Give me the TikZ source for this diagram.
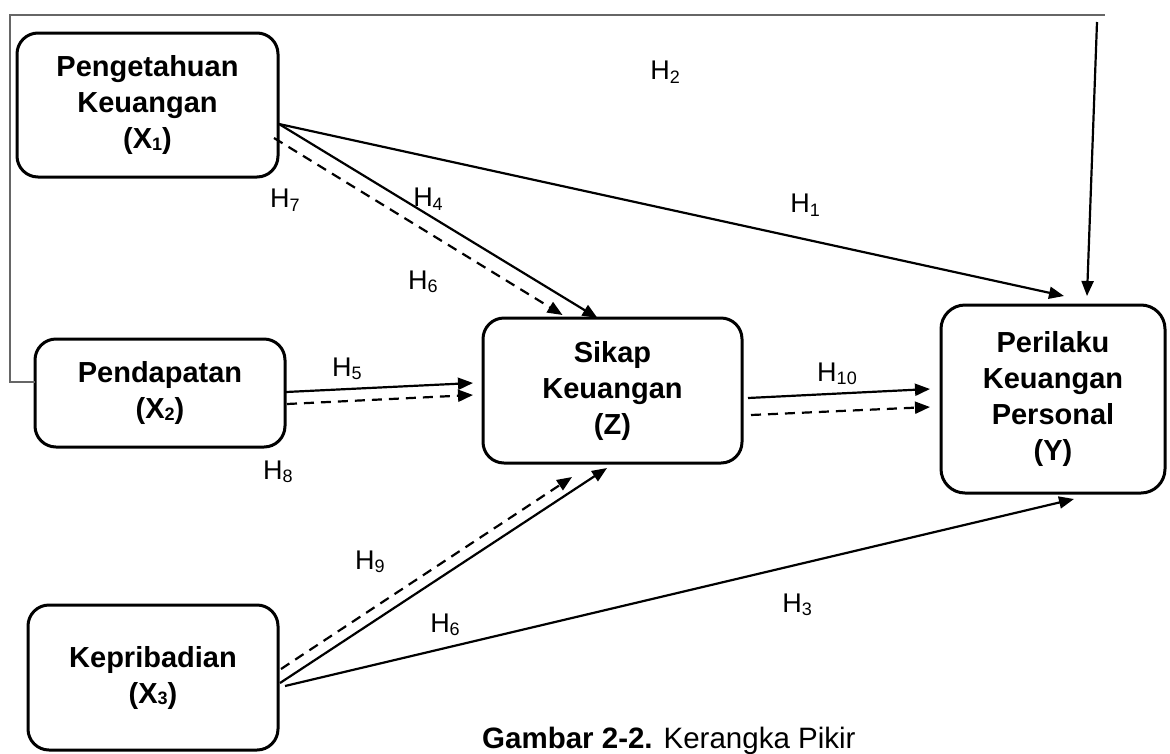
\documentclass[tikz,border=0pt]{standalone}
\usepackage{fontspec}
\setmainfont{Liberation Sans}
\usetikzlibrary{arrows.meta}
\newcommand\hsub[1]{\raisebox{-0.25ex}{\fontsize{18}{18}\selectfont #1}}
\newcommand\bsub[1]{\raisebox{-0.1ex}{\fontsize{18}{18}\selectfont #1}}
\begin{document}
\begin{tikzpicture}[x=1pt,y=-1pt,
  box/.style={draw, line width=3pt, rounded corners=21pt, inner sep=0pt, outer sep=0pt, align=center, font=\fontsize{29}{36}\selectfont\bfseries},
  arr/.style={line width=2.2pt, -{Triangle[length=15pt,width=12pt]}},
  darr/.style={arr, dash pattern=on 10pt off 7pt},
  lab/.style={font=\fontsize{27}{27}\selectfont, inner sep=0pt},
  gline/.style={draw=black!60, line width=1.2pt}
]
\useasboundingbox (0,0) rectangle (1170,753);

% boxes
\node[box, minimum width=261pt, minimum height=144pt] (x1) at (147.5,105) {Pengetahuan\\Keuangan\\(X\bsub{1})};
\node[box, minimum width=250pt, minimum height=108pt] (x2) at (160,393) {Pendapatan\\(X\bsub{2})};
\node[box, minimum width=250pt, minimum height=145pt] (x3) at (153,677.5) {Kepribadian\\(X\bsub{3})};
\node[box, minimum width=259pt, minimum height=145pt] (z) at (612.5,390.5) {Sikap\\Keuangan\\(Z)};
\node[box, minimum width=224pt, minimum height=188pt, rounded corners=24pt] (y) at (1053,399) {Perilaku\\Keuangan\\Personal\\(Y)};

% H2 path
\coordinate (h2corner) at (10,15);
\coordinate (h2end) at (1105,15);
\coordinate (h2top) at (1097,22);
\draw[gline] ([shift={(0,-11)}]x2.west) -| (h2corner) -- (h2end);
\draw[arr] (h2top) -- ([shift={(34,-9)}]y.north);

% arrows
\draw[arr] ([shift={(1,19)}]x1.east) -- ([shift={(11,-9)}]y.north);
\draw[arr] ([shift={(1,19)}]x1.east) -- ([shift={(-15,0)}]z.north);
\draw[darr] ([shift={(-4,33)}]x1.east) -- ([shift={(-50,-3)}]z.north);
\draw[arr] ([shift={(1,-1)}]x2.east) -- ([shift={(-10,-7.5)}]z.west);
\draw[darr] ([shift={(2,11)}]x2.east) -- ([shift={(-10,4.5)}]z.west);
\draw[arr] ([shift={(6,7.5)}]z.east) -- ([shift={(-11,-10)}]y.west);
\draw[darr] ([shift={(9,24.5)}]z.east) -- ([shift={(-11,8)}]y.west);
\draw[darr] ([shift={(3,-8.5)}]x3.east) -- ([shift={(-40.5,14)}]z.south);
\draw[arr] ([shift={(2,5.5)}]x3.east) -- ([shift={(-5.5,5)}]z.south);
\draw[arr] ([shift={(7,8.5)}]x3.east) -- ([shift={(21,6)}]y.south);

% labels
\node[lab] (lh2) at (665,72) {H\hsub{2}};
\node[lab] (lh1) at (805,205) {H\hsub{1}};
\node[lab] (lh7) at (285,200) {H\hsub{7}};
\node[lab] (lh4) at (428,199) {H\hsub{4}};
\node[lab] (lh6a) at (423,282) {H\hsub{6}};
\node[lab] (lh5) at (347,369) {H\hsub{5}};
\node[lab] (lh10) at (837,374) {H\hsub{10}};
\node[lab] (lh8) at (278,472) {H\hsub{8}};
\node[lab] (lh9) at (370,562) {H\hsub{9}};
\node[lab] (lh6b) at (445,625) {H\hsub{6}};
\node[lab] (lh3) at (797,605) {H\hsub{3}};

% caption
\node[anchor=base west, inner sep=0pt, font=\fontsize{29.5}{29.5}\selectfont] (cap) at (482,748) {\textbf{Gambar 2-2.} Kerangka Pikir};
\end{tikzpicture}
\end{document}
